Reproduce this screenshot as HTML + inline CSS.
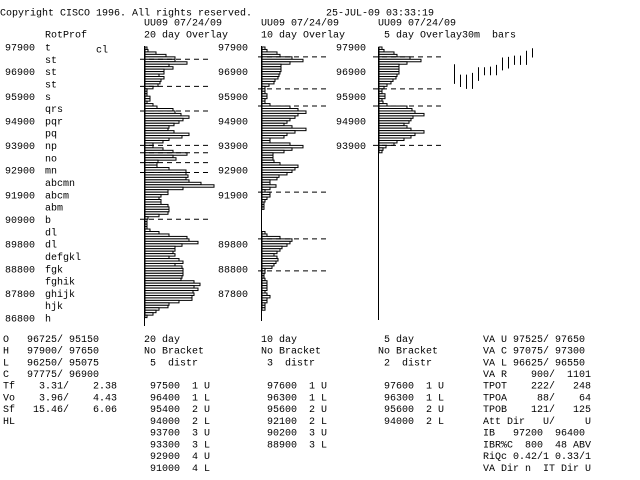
<!DOCTYPE html>
<html><head><meta charset="utf-8"><style>
html,body{margin:0;padding:0;background:#fff}
svg{display:block}
text{font-family:"Liberation Mono",monospace;font-size:10px;fill:#000;white-space:pre}
</style></head><body>
<svg id="c" width="640" height="480" viewBox="0 0 640 480">
<rect width="640" height="480" fill="#fff"/>
</svg>
<script>
// ---- data ----
const topPrice = 97900;
const tick = 100;
const rowLabels = ["97900","","96900","","95900","","94900","","93900","","92900","","91900","","90900","","89800","","88800","","87800","","86800"];
const rowLetters = ["t","st","st","st","s","qrs","pqr","pq","np","no","mn","abcmn","abcm","abm","b","dl","dl","defgkl","fgk","fghik","ghijk","hjk","h"];
const tpo20 = [2,3,11,21,30,30,42,24,28,19,19,14,19,16,15,13,8,2,2,2,5,5,2,8,12,28,30,36,44,38,34,29,24,23,29,44,37,24,18,8,8,18,28,42,28,31,13,12,12,24,41,41,43,
 41,44,56,69,38,23,23,16,14,16,16,23,24,24,23,14,3,2,2,2,2,5,14,24,42,44,53,37,30,30,28,30,24,34,38,30,37,38,38,38,37,36,49,55,49,53,48,49,47,47,34,24,23,14,11,8,2];
const tpo10 = [3,5,15,18,30,41,28,19,19,19,18,17,16,13,12,7,3,3,3,5,5,3,3,8,28,36,44,36,33,28,25,22,30,44,33,25,22,8,8,28,41,30,22,11,11,11,12,18,36,33,30,25,17,15,8,8,14,8,3,8,8,5,3,2,2,2,
 0,0,0,0,0,0,0,0,0,3,5,18,30,28,25,20,18,15,12,15,16,14,12,10,3,3,2,2,3,5,5,5,5,3,5,8,5,5,3,3,3];
const tpo5 = [3,5,15,18,31,42,28,20,20,20,20,18,17,14,12,8,5,3,3,6,6,3,4,8,28,33,36,45,34,32,30,25,28,32,45,36,32,25,18,15,7,4,3];
const dist20 = [97500,96400,95400,94000,93700,93300,92900,91000];
const dist10 = [97600,96300,95600,92100,90200,88900];
const dist5 = [97600,96300,95600,94000];
const barHigh = [97200,96775,96775,96850,97075,97075,97100,97175,97475,97500,97550,97550,97750,97850];
const barLow  = [96400,96275,96200,96200,96525,96750,96750,96750,96950,97025,97175,97175,97175,97475];
const labels20 = [0,2,4,6,8,10,12,16,18,20];
const labels10 = [0,2,4,6,8];

// ---- scales ----
const pitch = 2.46, y0 = 47;
const yTop = p => y0 + (topPrice - p) / tick * pitch;
const rowY = i => 47 + i * 12.32;
const botY = j => 338.3 + j * 11.73;
const NS = "http://www.w3.org/2000/svg";
const svg = document.getElementById('c');
function mk(tag, attrs){const e=document.createElementNS(NS,tag);for(const k in attrs)e.setAttribute(k,attrs[k]);svg.appendChild(e);return e;}
function txt(x, yc, s){const t=mk('text',{x:x,y:(yc+3.5).toFixed(2)});t.textContent=s;return t;}

// header
let t;
t=txt(0,12,"Copyright CISCO 1996. All rights reserved.");


t=txt(326,12,"25-JUL-09 03:33:19");


[144,261,378].forEach(x=>{t=txt(x,22,"UU09 07/24/09");

});
t=txt(45,34,"RotProf");


t=txt(144,34,"20 day Overlay");


t=txt(261,34,"10 day Overlay");


t=txt(378,34," 5 day Overlay30m  bars");



// left rotation profile column
rowLetters.forEach((s,i)=>{
  if(rowLabels[i]){t=txt(5,rowY(i),rowLabels[i]);
  
  }
  t=txt(45,rowY(i),s);
  
  
});
t=txt(96,49,"cl");



// histograms
function panel(axisX, vals, dists, dashL, dashR, axisTop, axisBot, name){
  const ax=mk('line',{x1:axisX,y1:axisTop,x2:axisX,y2:axisBot,stroke:'#000','stroke-width':1});
  
  
  vals.forEach((v,i)=>{
    if(v<=0)return;
    const p=topPrice-i*tick;
    const r=mk('rect',{x:axisX+0.5,y:yTop(p).toFixed(2),width:v,height:pitch.toFixed(2),fill:'#fff',stroke:'#000','stroke-width':1});
    
    
  });
  dists.forEach(p=>{
    const y=(yTop(p)+pitch).toFixed(2);
    const l=mk('line',{x1:dashL,y1:y,x2:dashR,y2:y,stroke:'#000','stroke-width':1,'stroke-dasharray':'5,4'});
    
    
  });
}
panel(144.5,tpo20,dist20,140,208,46,326,'overlay-20');
panel(261.5,tpo10,dist10,258,326,46,321,'overlay-10');
panel(378.5,tpo5,dist5,373,444,47,320,'overlay-5');

labels20.forEach(i=>{t=txt(218,rowY(i),rowLabels[i]);

});
labels10.forEach(i=>{t=txt(336,rowY(i),rowLabels[i]);

});

// 30 minute bars
barHigh.forEach((h,i)=>{
  const x=454.5+i*6;
  const l=mk('line',{x1:x,y1:yTop(h).toFixed(2),x2:x,y2:yTop(barLow[i]).toFixed(2),stroke:'#000','stroke-width':1});
  
  
});

// bottom tables
const leftRows=["O   96725/ 95150","H   97900/ 97650","L   96250/ 95075","C   97775/ 96900","Tf    3.31/    2.38","Vo    3.96/    4.43","Sf   15.46/    6.06","HL"];
leftRows.forEach((s,j)=>{t=txt(3,botY(j),s);

});
const c20=["20 day","No Bracket"," 5  distr"];
const n20=["97500  1 U","96400  1 L","95400  2 U","94000  2 L","93700  3 U","93300  3 L","92900  4 U","91000  4 L"];
const c10=["10 day","No Bracket"," 3  distr"];
const n10=["97600  1 U","96300  1 L","95600  2 U","92100  2 L","90200  3 U","88900  3 L"];
const c5=[" 5 day","No Bracket"," 2  distr"];
const n5=[" 97600  1 U"," 96300  1 L"," 95600  2 U"," 94000  2 L"];
c20.forEach((s,j)=>{t=txt(144,botY(j),s);

});
n20.forEach((s,j)=>{t=txt(150,botY(j+4),s);

});
c10.forEach((s,j)=>{t=txt(261,botY(j),s);

});
n10.forEach((s,j)=>{t=txt(267,botY(j+4),s);

});
c5.forEach((s,j)=>{t=txt(378,botY(j),s);

});
n5.forEach((s,j)=>{t=txt(378,botY(j+4),s);

});
const rightRows=["VA U 97525/ 97650","VA C 97075/ 97300","VA L 96625/ 96550","VA R    900/  1101","TPOT    222/   248","TPOA     88/    64","TPOB    121/   125","Att Dir   U/     U","IB   97200  96400","IBR%C  800  48 ABV","RiQc 0.42/1 0.33/1","VA Dir n  IT Dir U"];
rightRows.forEach((s,j)=>{t=txt(483,botY(j),s);

});
</script>
</body></html>
